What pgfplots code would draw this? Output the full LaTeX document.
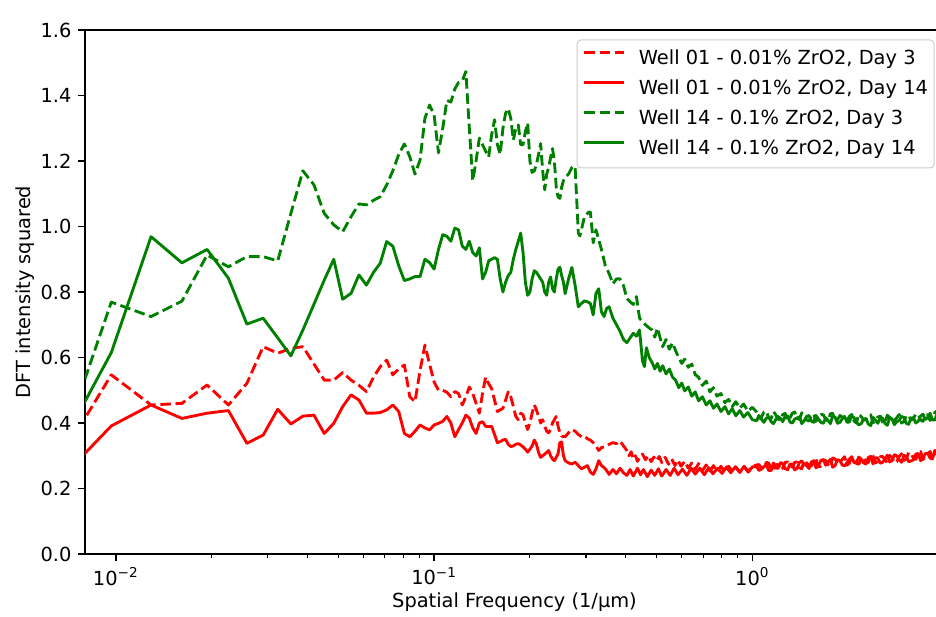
\documentclass[border=0pt]{standalone}
\usepackage{fontspec}
\setmainfont{DejaVu Sans}
\usepackage{pgfplots}
\usepackage{pgfplotstable}
\pgfplotsset{compat=1.18}
\usetikzlibrary{calc}
\definecolor{mplred}{HTML}{FF0000}
\definecolor{mplgreen}{HTML}{008000}
\newcommand{\chartfont}{\fontsize{9.7}{11.6}\selectfont}

% k = DFT bin, frequency = k * 0.0032258 1/um ; v in units of 1e9
\pgfplotstableread{
k v
2 0.270
3 0.769
4 0.725
5 0.772
6 0.913
7 0.877
8 0.908
9 0.908
10 0.895
11 1.040
12 1.170
13 1.127
14 1.040
15 1.005
16 0.984
17 1.030
18 1.069
19 1.066
20 1.080
21 1.091
22 1.127
23 1.170
24 1.220
25 1.252
26 1.213
27 1.160
28 1.203
29 1.330
30 1.371
31 1.340
32 1.225
33 1.300
34 1.385
35 1.380
36 1.420
37 1.440
38 1.445
39 1.473
40 1.300
41 1.140
42 1.200
43 1.270
44 1.250
45 1.230
46 1.212
47 1.280
48 1.326
49 1.250
50 1.220
51 1.300
52 1.346
53 1.360
54 1.330
55 1.264
56 1.300
57 1.310
58 1.250
59 1.250
60 1.290
61 1.316
62 1.200
63 1.165
64 1.170
65 1.190
66 1.220
67 1.253
68 1.170
69 1.112
70 1.160
71 1.180
72 1.210
73 1.238
74 1.200
75 1.120
76 1.090
77 1.086
78 1.120
79 1.140
80 1.150
82 1.160
84 1.180
85 1.185
86 1.180
87 1.080
88 0.980
89 0.971
90 0.990
91 1.010
92 1.030
93 1.034
94 1.040
95 1.044
96 1.044
97 1.000
98 0.950
99 0.970
100 0.990
104 0.930
107 0.880
110 0.856
113 0.825
116 0.840
119 0.840
122 0.820
125 0.780
128 0.770
131 0.762
134 0.786
137 0.720
140 0.710
143 0.700
147 0.690
150 0.684
153 0.662
156 0.690
159 0.660
162 0.633
166 0.655
170 0.625
174 0.645
178 0.620
182 0.600
186 0.582
190 0.595
195 0.570
200 0.580
205 0.548
210 0.540
216 0.515
222 0.528
228 0.495
234 0.508
240 0.482
247 0.490
254 0.462
261 0.472
268 0.450
275 0.465
283 0.445
291 0.458
300 0.436
310 0.448
320 0.433
325 0.414
331 0.418
337 0.433
343 0.436
349 0.416
355 0.413
361 0.435
367 0.425
373 0.412
380 0.409
386 0.426
393 0.429
400 0.408
407 0.416
414 0.430
421 0.434
428 0.414
436 0.411
443 0.431
451 0.424
459 0.409
467 0.406
475 0.422
483 0.428
491 0.405
500 0.416
509 0.426
518 0.425
527 0.411
536 0.406
545 0.428
554 0.430
564 0.407
574 0.410
584 0.423
594 0.418
604 0.403
615 0.406
625 0.420
636 0.426
647 0.406
658 0.400
669 0.427
681 0.420
693 0.409
705 0.410
717 0.422
730 0.425
742 0.401
755 0.405
768 0.418
782 0.421
795 0.402
809 0.400
823 0.424
837 0.417
851 0.406
866 0.408
881 0.416
897 0.426
912 0.400
928 0.404
944 0.423
960 0.422
977 0.409
994 0.414
1011 0.427
1029 0.426
1047 0.409
1065 0.405
1083 0.424
1102 0.425
1121 0.408
1140 0.413
1160 0.432
1180 0.437
1200 0.420
1221 0.420
1230 0.432
1240 0.432
}\greendash

\pgfplotstableread{
k v
2 0.297
3 0.615
4 0.969
5 0.889
6 0.930
7 0.842
8 0.702
9 0.720
10 0.660
11 0.605
12 0.684
13 0.763
14 0.836
15 0.900
16 0.778
17 0.796
18 0.852
19 0.821
20 0.860
21 0.888
22 0.954
23 0.940
24 0.880
25 0.835
26 0.840
27 0.847
28 0.847
29 0.900
30 0.890
31 0.870
32 0.930
33 0.975
34 0.970
35 0.955
36 0.995
37 0.990
38 0.940
39 0.930
40 0.955
41 0.920
42 0.910
43 0.935
44 0.840
45 0.860
46 0.895
47 0.900
48 0.905
49 0.900
50 0.840
51 0.800
52 0.830
53 0.850
54 0.860
55 0.900
56 0.930
57 0.955
58 0.980
59 0.920
60 0.830
61 0.790
62 0.800
63 0.840
64 0.865
65 0.860
66 0.850
67 0.840
68 0.830
69 0.800
70 0.790
71 0.830
72 0.846
73 0.810
74 0.800
75 0.840
76 0.870
77 0.876
78 0.850
79 0.830
80 0.795
82 0.840
84 0.875
86 0.820
88 0.755
90 0.765
92 0.773
94 0.770
96 0.765
98 0.730
100 0.796
102 0.810
104 0.740
106 0.725
108 0.750
110 0.755
113 0.720
116 0.700
119 0.680
122 0.655
125 0.645
128 0.660
131 0.674
134 0.665
137 0.684
140 0.590
142 0.572
144 0.630
147 0.600
150 0.585
153 0.565
156 0.582
159 0.558
162 0.575
166 0.550
170 0.565
174 0.540
178 0.530
182 0.508
186 0.522
190 0.498
195 0.510
200 0.482
205 0.495
210 0.468
216 0.480
222 0.455
228 0.468
234 0.445
240 0.458
247 0.435
254 0.450
261 0.428
268 0.444
275 0.422
283 0.438
291 0.418
300 0.432
310 0.410
320 0.407
325 0.423
331 0.412
337 0.402
343 0.415
349 0.418
355 0.404
361 0.398
367 0.410
373 0.420
380 0.414
386 0.404
393 0.420
400 0.422
407 0.403
414 0.400
421 0.412
428 0.415
436 0.419
443 0.398
451 0.407
459 0.420
467 0.423
475 0.406
483 0.402
491 0.423
500 0.412
509 0.402
518 0.399
527 0.416
536 0.408
545 0.398
554 0.421
564 0.418
574 0.399
584 0.402
594 0.413
604 0.420
615 0.402
625 0.403
636 0.422
647 0.416
658 0.403
669 0.394
681 0.398
693 0.411
705 0.414
717 0.397
730 0.392
742 0.417
755 0.409
768 0.399
782 0.416
795 0.415
809 0.399
823 0.393
837 0.416
851 0.413
866 0.395
881 0.404
897 0.408
912 0.420
928 0.417
944 0.399
960 0.396
977 0.415
994 0.416
1011 0.400
1029 0.405
1047 0.421
1065 0.427
1083 0.411
1102 0.416
1121 0.430
1140 0.409
1160 0.409
1180 0.428
1200 0.423
1221 0.416
1230 0.413
1240 0.426
}\greensolid

\pgfplotstableread{
k v
2 0.265
3 0.547
4 0.455
5 0.460
6 0.516
7 0.455
8 0.521
9 0.633
10 0.613
11 0.628
12 0.633
13 0.580
14 0.531
15 0.531
16 0.554
17 0.531
18 0.515
19 0.496
20 0.540
21 0.572
22 0.592
23 0.547
24 0.565
25 0.577
26 0.480
27 0.465
28 0.560
29 0.638
30 0.580
31 0.525
32 0.500
33 0.500
34 0.494
35 0.480
36 0.496
37 0.490
38 0.455
39 0.480
40 0.510
41 0.490
42 0.460
43 0.430
44 0.490
45 0.540
46 0.520
47 0.505
48 0.470
49 0.435
50 0.440
51 0.445
52 0.470
53 0.495
54 0.480
55 0.450
56 0.420
57 0.410
58 0.430
59 0.425
60 0.400
61 0.380
62 0.400
63 0.430
64 0.455
65 0.440
66 0.420
67 0.400
68 0.410
69 0.390
70 0.375
71 0.370
72 0.380
73 0.400
74 0.410
75 0.420
76 0.390
77 0.370
78 0.360
80 0.358
82 0.370
84 0.380
86 0.375
88 0.365
90 0.358
92 0.360
94 0.352
96 0.348
98 0.340
100 0.330
102 0.316
104 0.325
107 0.327
110 0.335
113 0.340
116 0.337
119 0.345
122 0.330
125 0.316
127 0.300
129 0.312
131 0.290
133 0.300
135 0.283
137 0.295
140 0.305
143 0.288
146 0.300
149 0.282
152 0.296
155 0.284
158 0.298
161 0.279
165 0.295
169 0.274
173 0.290
177 0.270
181 0.287
185 0.268
190 0.283
195 0.262
200 0.278
205 0.258
210 0.276
216 0.255
222 0.272
228 0.253
234 0.270
240 0.252
247 0.268
254 0.250
261 0.268
268 0.252
275 0.266
283 0.250
291 0.268
300 0.252
310 0.268
320 0.272
325 0.273
331 0.262
337 0.263
343 0.280
349 0.277
355 0.259
361 0.256
367 0.273
373 0.273
380 0.256
386 0.262
393 0.280
400 0.281
407 0.270
414 0.265
421 0.280
428 0.281
436 0.263
443 0.260
451 0.287
459 0.278
467 0.270
475 0.269
483 0.281
491 0.289
500 0.266
509 0.268
518 0.288
527 0.285
536 0.273
545 0.269
554 0.293
564 0.290
574 0.279
584 0.279
594 0.289
604 0.297
615 0.271
625 0.277
636 0.296
647 0.291
658 0.277
669 0.274
681 0.289
693 0.294
705 0.281
717 0.279
730 0.301
742 0.299
755 0.278
768 0.283
782 0.297
795 0.298
809 0.288
823 0.278
837 0.301
851 0.295
866 0.279
881 0.282
897 0.298
912 0.306
928 0.286
944 0.290
960 0.310
977 0.306
994 0.293
1011 0.289
1029 0.308
1047 0.313
1065 0.289
1083 0.295
1102 0.306
1121 0.313
1140 0.295
1160 0.294
1180 0.319
1200 0.314
1221 0.303
1230 0.298
1240 0.318
}\reddash

\pgfplotstableread{
k v
2 0.213
3 0.391
4 0.455
5 0.414
6 0.430
7 0.438
8 0.338
9 0.363
10 0.442
11 0.397
12 0.421
13 0.424
14 0.368
15 0.399
16 0.450
17 0.486
18 0.470
19 0.430
20 0.430
21 0.432
22 0.440
23 0.455
24 0.435
25 0.368
26 0.358
27 0.375
28 0.394
29 0.385
30 0.379
31 0.394
32 0.399
33 0.405
34 0.420
35 0.400
36 0.358
37 0.380
38 0.400
39 0.424
40 0.415
41 0.385
42 0.368
43 0.400
44 0.404
45 0.390
46 0.389
47 0.390
48 0.365
49 0.340
50 0.343
51 0.348
52 0.350
53 0.335
54 0.328
55 0.330
56 0.335
57 0.337
58 0.333
59 0.327
60 0.320
61 0.311
62 0.320
63 0.330
64 0.348
65 0.335
66 0.310
67 0.295
68 0.300
69 0.305
70 0.310
71 0.316
72 0.300
73 0.290
74 0.285
75 0.295
76 0.306
77 0.340
78 0.342
79 0.300
80 0.285
82 0.278
84 0.275
86 0.280
88 0.270
90 0.260
92 0.265
94 0.270
96 0.250
98 0.243
100 0.260
102 0.285
104 0.270
106 0.264
108 0.255
110 0.243
113 0.258
116 0.245
119 0.262
122 0.248
125 0.240
128 0.258
131 0.238
135 0.262
138 0.242
141 0.258
145 0.236
149 0.256
153 0.240
157 0.260
161 0.238
166 0.258
171 0.240
176 0.262
181 0.242
187 0.259
193 0.240
199 0.262
205 0.244
212 0.262
219 0.242
226 0.264
233 0.245
241 0.262
249 0.246
257 0.266
265 0.248
274 0.266
283 0.249
292 0.268
301 0.250
310 0.266
320 0.267
325 0.255
331 0.259
337 0.267
343 0.272
349 0.255
355 0.255
361 0.278
367 0.264
373 0.261
380 0.279
386 0.276
393 0.261
400 0.257
407 0.275
414 0.275
421 0.257
428 0.261
436 0.280
443 0.284
451 0.273
459 0.270
467 0.261
475 0.281
483 0.285
491 0.263
500 0.270
509 0.286
518 0.288
527 0.271
536 0.281
545 0.289
554 0.265
564 0.270
574 0.288
584 0.285
594 0.272
604 0.269
615 0.279
625 0.290
636 0.297
647 0.279
658 0.278
669 0.296
681 0.290
693 0.278
705 0.275
717 0.295
730 0.298
742 0.275
755 0.294
768 0.293
782 0.277
795 0.280
809 0.290
823 0.302
837 0.281
851 0.285
866 0.303
881 0.300
897 0.288
912 0.280
928 0.301
944 0.298
960 0.282
977 0.284
994 0.288
1011 0.305
1029 0.307
1047 0.285
1065 0.290
1083 0.307
1102 0.307
1121 0.293
1140 0.290
1160 0.316
1180 0.309
1200 0.300
1221 0.318
1230 0.318
1240 0.303
}\redsolid

\begin{document}
\begin{tikzpicture}
\begin{axis}[
  at={(0,0)}, anchor=south west,
  scale only axis,
  width=429.5pt, height=262pt,
  xmode=log,
  xmin=0.008, xmax=4.0,
  ymin=0, ymax=1.6,
  ytick={0,0.2,0.4,0.6,0.8,1.0,1.2,1.4,1.6},
  xtick={0.01,0.1,1},
  xticklabels={10\textsuperscript{−2},10\textsuperscript{−1},10\textsuperscript{0}},
  scaled y ticks=false,
  /pgf/number format/assume math mode=true,
  y tick label style={/pgf/number format/fixed, /pgf/number format/fixed zerofill, /pgf/number format/precision=1},
  tick label style={font=\chartfont, text=black},
  label style={font=\chartfont},
  xtick pos=left, ytick pos=left,
  tick align=outside,
  major tick length=3.3pt, minor tick length=1.9pt,
  major tick style={black, line width=0.75pt},
  minor tick style={black, line width=0.57pt},
  axis line style={black, line width=0.75pt},
  xlabel={Spatial Frequency (1/μm)},
  ylabel={DFT intensity squared},
  x label style={at={(axis description cs:0.5,-0.103)}, anchor=base},
  y label style={at={(axis description cs:-0.064,0.5)}, anchor=base, rotate=0},
  legend cell align=left,
  legend image code/.code={\draw[#1] (0pt,0.33em) -- (20pt,0.33em);},
  legend style={at={(axis description cs:1,1)}, anchor=north east,
    xshift=-4.75pt, yshift=-4.75pt,
    font=\chartfont, draw=black!20, line width=0.5pt, rounded corners=2pt,
    fill=white, inner xsep=3pt, inner ysep=2pt, row sep=0pt,
    nodes={inner sep=0pt, minimum height=15pt},
    /tikz/every odd column/.append style={column sep=6.5pt}},
  every axis plot/.append style={line width=1.43pt, line join=round},
]
\addplot[mplred, dash pattern=on 5.3pt off 2.3pt] table[x expr=\thisrow{k}*0.0032258, y=v] {\reddash};
\addlegendentry{Well 01 - 0.01\% ZrO2, Day 3}
\addplot[mplred] table[x expr=\thisrow{k}*0.0032258, y=v] {\redsolid};
\addlegendentry{Well 01 - 0.01\% ZrO2, Day 14}
\addplot[mplgreen, dash pattern=on 5.3pt off 2.3pt] table[x expr=\thisrow{k}*0.0032258, y=v] {\greendash};
\addlegendentry{Well 14 - 0.1\% ZrO2, Day 3}
\addplot[mplgreen] table[x expr=\thisrow{k}*0.0032258, y=v] {\greensolid};
\addlegendentry{Well 14 - 0.1\% ZrO2, Day 14}
\node[anchor=base west, inner sep=0pt, font=\chartfont] at ($(rel axis cs:0,1)+(0.5pt,2.5pt)$) {1e9};
\end{axis}
\pgfresetboundingbox
\path[use as bounding box] ($(current axis.south west)+(-42.5pt,-31pt)$) rectangle ($(current axis.south west)+(425.5pt,277pt)$);
\end{tikzpicture}
\end{document}
